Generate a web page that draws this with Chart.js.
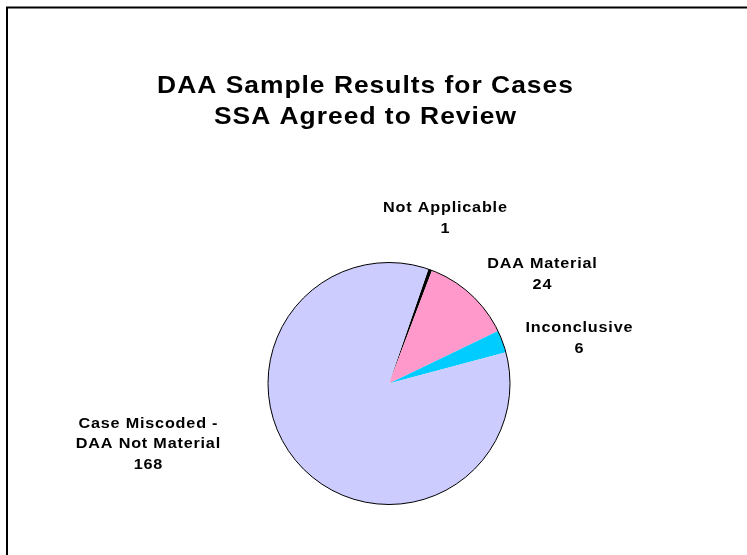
<!DOCTYPE html>
<html>
<head>
<meta charset="utf-8">
<script src="https://cdn.jsdelivr.net/npm/chart.js@4.4.1/dist/chart.umd.min.js"></script>
<style>
  html, body { margin: 0; padding: 0; background: #fff; }
  #wrap { width: 747px; height: 555px; position: relative; }
</style>
</head>
<body>
<div id="wrap"><canvas id="pie"></canvas></div>
<script>
// === data ===
const titleLines = ['DAA Sample Results for Cases', 'SSA Agreed to Review'];
const categories = ['Not Applicable', 'DAA Material', 'Inconclusive', 'Case Miscoded -\nDAA Not Material'];
const counts = [1, 24, 6, 168];
const sliceColors = ['#000000', '#FF99CC', '#00CCFF', '#CCCCFF'];

// label anchor offsets from pie centre (first baseline)
const labelOffsets = [[56, -172], [153, -116], [190, -52], [-241, 44]];

const FONT = '"Liberation Sans", Arial, sans-serif';

// slightly widened + spaced text, centred on x (mimics the old GDI rendering)
function wideText(ctx, txt, x, y, sx, gap) {
  ctx.save();
  ctx.textAlign = 'left';
  const hasLS = 'letterSpacing' in ctx;
  if (hasLS) ctx.letterSpacing = (gap / sx) + 'px';
  const chars = txt.split('');
  let w;
  if (hasLS) w = (ctx.measureText(txt).width - gap / sx) * sx;
  else w = (ctx.measureText(txt).width) * sx + gap * (chars.length - 1);
  ctx.translate(x - w / 2, y);
  ctx.scale(sx, 1);
  if (hasLS) {
    ctx.fillText(txt, 0, 0);
  } else {
    let px = 0;
    chars.forEach(ch => { ctx.fillText(ch, px, 0); px += ctx.measureText(ch).width + gap / sx; });
  }
  ctx.restore();
}

const decor = {
  id: 'decor',
  afterDatasetsDraw(chart) {
    const ctx = chart.ctx;
    const arc = chart.getDatasetMeta(0).data[0];
    const cx = arc.x, cy = arc.y, r = arc.outerRadius;

    // outline of the pie
    ctx.save();
    ctx.beginPath();
    ctx.arc(cx, cy, r, 0, Math.PI * 2);
    ctx.lineWidth = 1;
    ctx.strokeStyle = '#000';
    ctx.stroke();

    // frame
    ctx.lineWidth = 2;
    ctx.strokeRect(7, 7.5, 780, 600);

    ctx.fillStyle = '#000';
    ctx.textBaseline = 'alphabetic';

    // title
    ctx.font = 'bold 24px ' + FONT;
    titleLines.forEach((t, i) => wideText(ctx, t, 365, 93 + i * 31, 1.1, 1));

    // data labels
    ctx.font = 'bold 15px ' + FONT;
    categories.forEach((c, i) => {
      const lines = c.split('\n').concat(String(counts[i]));
      const [dx, dy] = labelOffsets[i];
      const lh = lines.length > 2 ? 20.5 : 21;
      lines.forEach((ln, j) => wideText(ctx, ln, cx + dx, cy + dy + j * lh, 1.08, 0.8));
    });
    ctx.restore();
  }
};

new Chart(document.getElementById('pie'), {
  type: 'pie',
  data: {
    labels: categories,
    datasets: [{
      data: counts,
      backgroundColor: sliceColors,
      borderWidth: 0
    }]
  },
  options: {
    responsive: true,
    maintainAspectRatio: false,
    animation: false,
    rotation: 19,
    radius: 121,
    layout: { padding: { left: 31, right: 0, top: 212, bottom: 0 } },
    plugins: {
      legend: { display: false },
      title: { display: false },
      tooltip: { enabled: false }
    }
  },
  plugins: [decor]
});
</script>
</body>
</html>
